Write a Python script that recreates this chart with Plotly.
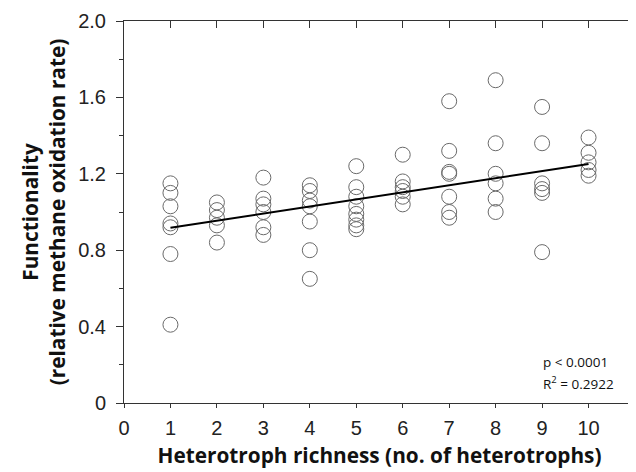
import plotly.graph_objects as go

richness = [1, 2, 3, 4, 5, 6, 7, 8, 9, 10]
functionality = [
    [1.15, 1.10, 1.03, 0.94, 0.92, 0.78, 0.41],
    [1.05, 1.01, 0.97, 0.93, 0.84],
    [1.18, 1.07, 1.04, 1.00, 0.92, 0.88],
    [1.14, 1.11, 1.06, 1.03, 0.95, 0.80, 0.65],
    [1.24, 1.13, 1.08, 1.03, 0.99, 0.96, 0.93, 0.91],
    [1.30, 1.16, 1.13, 1.11, 1.08, 1.04],
    [1.58, 1.32, 1.21, 1.20, 1.08, 1.00, 0.97],
    [1.69, 1.36, 1.20, 1.15, 1.07, 1.00],
    [1.55, 1.36, 1.15, 1.12, 1.10, 0.79],
    [1.39, 1.31, 1.26, 1.22, 1.19],
]
fit_x = [1, 10]
fit_y = [0.917, 1.251]
x_ticks = list(range(0, 11))
y_ticks = [0, 0.4, 0.8, 1.2, 1.6, 2.0]
y_tick_labels = ["0", "0.4", "0.8", "1.2", "1.6", "2.0"]

xs, ys = [], []
for r, vals in zip(richness, functionality):
    for v in vals:
        xs.append(r)
        ys.append(v)

AX = "#333333"
tickfont = dict(family="Liberation Sans, Arial, sans-serif", size=20, color="#222222")
titlefont = dict(family="Open Sans, sans-serif", size=20.8, color="#111111")
notefont = dict(family="Open Sans, sans-serif", size=13.5, color="#111111")

fig = go.Figure()
fig.add_trace(go.Scatter(
    x=xs, y=ys, mode="markers",
    marker=dict(symbol="circle-open", size=15, color="#6a6a6a", line=dict(width=1, color="#6a6a6a")),
    showlegend=False, hoverinfo="skip",
))
fig.add_trace(go.Scatter(
    x=fit_x, y=fit_y, mode="lines", xaxis="x2", yaxis="y2",
    line=dict(color="#000000", width=2), showlegend=False, hoverinfo="skip",
))

xr = [0, 11]
yr = [0, 2.0]

fig.update_layout(
    width=636, height=472,
    margin=dict(l=116, r=9, t=13, b=77, autoexpand=False),
    paper_bgcolor="white", plot_bgcolor="white",
    xaxis=dict(
        range=xr, tickvals=x_ticks, ticktext=[str(t) for t in x_ticks],
        ticks="outside", ticklen=4, tickcolor=AX, tickwidth=1, automargin=False,
        ticklabelstandoff=3,
        showline=True, linecolor=AX, linewidth=1, showgrid=False, zeroline=False,
        tickfont=tickfont,
        title=dict(text="<b>Heterotroph richness (no. of heterotrophs)</b>", font=titlefont, standoff=10),
    ),
    yaxis=dict(
        range=yr, tickvals=y_ticks, ticktext=y_tick_labels,
        ticks="outside", ticklen=7, tickcolor=AX, tickwidth=1, automargin=False,
        ticklabelstandoff=6,
        minor=dict(dtick=0.2, tick0=0, ticks="outside", ticklen=4, tickcolor=AX),
        showline=True, linecolor=AX, linewidth=1, showgrid=False, zeroline=False,
        tickfont=tickfont,
        title=dict(text="<b>Functionality</b><br><b>(relative methane oxidation rate)</b>", font=titlefont, standoff=6),
    ),
    xaxis2=dict(
        range=xr, overlaying="x", side="top", tickvals=x_ticks,
        ticks="inside", ticklen=7, tickcolor=AX, tickwidth=1, automargin=False,
        showticklabels=False, showline=True, linecolor=AX, linewidth=1,
        showgrid=False, zeroline=False,
    ),
    yaxis2=dict(
        range=yr, overlaying="y", side="right", tickvals=y_ticks,
        ticks="inside", ticklen=7, tickcolor=AX, tickwidth=1, automargin=False,
        minor=dict(dtick=0.2, tick0=0, ticks="inside", ticklen=4, tickcolor=AX),
        showticklabels=False, showline=True, linecolor=AX, linewidth=1,
        showgrid=False, zeroline=False,
    ),
    annotations=[
        dict(text="p < 0.0001", xref="paper", yref="paper", x=0.817, y=0.108,
             xanchor="left", yanchor="middle", showarrow=False, font=notefont),
        dict(text="R<sup>2</sup> = 0.2922", xref="paper", yref="paper", x=0.817, y=0.053,
             xanchor="left", yanchor="middle", showarrow=False, font=notefont),
    ],
)

fig.write_html("out.html")
